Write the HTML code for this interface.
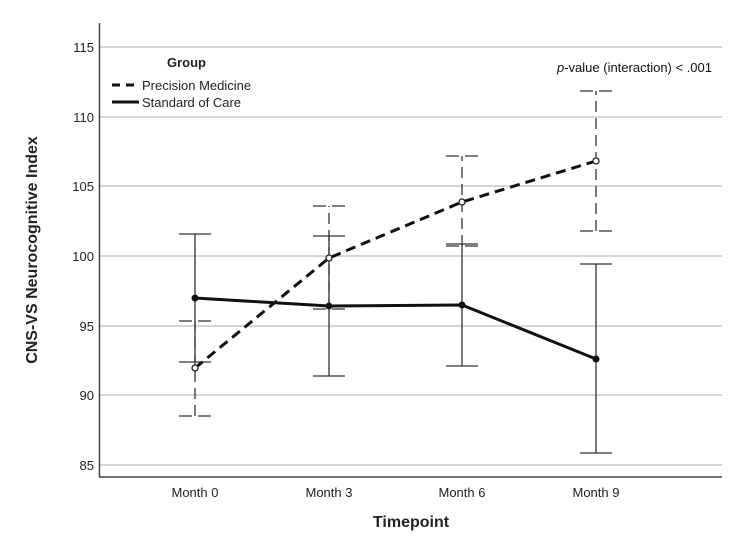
<!DOCTYPE html><html><head><style>body{margin:0;background:#fff}svg{font-family:"Liberation Sans",sans-serif}</style></head><body>
<svg width="747" height="538" viewBox="0 0 747 538">
<g stroke="#c8c8c8" stroke-width="1.5">
<line x1="100" x2="722" y1="47" y2="47"/><line x1="100" x2="722" y1="117" y2="117"/><line x1="100" x2="722" y1="186" y2="186"/><line x1="100" x2="722" y1="256" y2="256"/><line x1="100" x2="722" y1="326" y2="326"/><line x1="100" x2="722" y1="395" y2="395"/><line x1="100" x2="722" y1="465" y2="465"/>
</g>
<path d="M99.5 23 V477 H722" fill="none" stroke="#444" stroke-width="1.5"/>
<g font-size="13" fill="#222" text-anchor="end">
<text x="94" y="52">115</text><text x="94" y="122">110</text><text x="94" y="191">105</text><text x="94" y="261">100</text><text x="94" y="331">95</text><text x="94" y="400">90</text><text x="94" y="470">85</text></g>
<g font-size="13" fill="#222" text-anchor="middle">
<text x="195" y="497">Month 0</text><text x="329" y="497">Month 3</text><text x="462" y="497">Month 6</text><text x="596" y="497">Month 9</text></g>
<text x="411" y="527" font-size="16" font-weight="bold" text-anchor="middle" fill="#222">Timepoint</text>
<text transform="translate(37,250) rotate(-90)" font-size="16" font-weight="bold" text-anchor="middle" fill="#222">CNS-VS Neurocognitive Index</text>
<text x="167" y="67" font-size="13" font-weight="bold" fill="#222">Group</text>
<line x1="112" x2="139" y1="85" y2="85" stroke="#111" stroke-width="3" stroke-dasharray="8,6"/>
<text x="142" y="90" font-size="13" fill="#222">Precision Medicine</text>
<line x1="112" x2="139" y1="102" y2="102" stroke="#111" stroke-width="3"/>
<text x="142" y="107" font-size="13" fill="#222">Standard of Care</text>
<text x="712" y="72" font-size="13" text-anchor="end" fill="#111"><tspan font-style="italic">p</tspan>-value (interaction) &lt; .001</text>
<g stroke="#333" stroke-width="1.3" stroke-dasharray="11,6" fill="none">
<path d="M195 416V321"/><path d="M329 309V206"/><path d="M462 246V156"/><path d="M596 231V91"/>
</g>
<g stroke="#333" stroke-width="1.3" stroke-dasharray="13,6" fill="none">
<path d="M179 416h32M179 321h32M313 309h32M313 206h32M446 246h32M446 156h32M580 231h32M580 91h32"/>
</g>
<g stroke="#333" stroke-width="1.3" fill="none">
<path d="M195 362V234M179 362h32M179 234h32"/>
<path d="M329 376V236M313 376h32M313 236h32"/>
<path d="M462 366V244M446 366h32M446 244h32"/>
<path d="M596 453V264M580 453h32M580 264h32"/>
</g>
<polyline points="195,368 329,258 462,202 596,161" fill="none" stroke="#111" stroke-width="3" stroke-dasharray="10,6"/>
<polyline points="195,298 329,306 462,305 596,359" fill="none" stroke="#111" stroke-width="3"/>
<g fill="#fff" stroke="#222" stroke-width="1.3"><circle cx="195" cy="368" r="3"/><circle cx="329" cy="258" r="3"/><circle cx="462" cy="202" r="3"/><circle cx="596" cy="161" r="3"/></g>
<g fill="#111"><circle cx="195" cy="298" r="3.5"/><circle cx="329" cy="306" r="3.5"/><circle cx="462" cy="305" r="3.5"/><circle cx="596" cy="359" r="3.5"/></g>
</svg></body></html>
